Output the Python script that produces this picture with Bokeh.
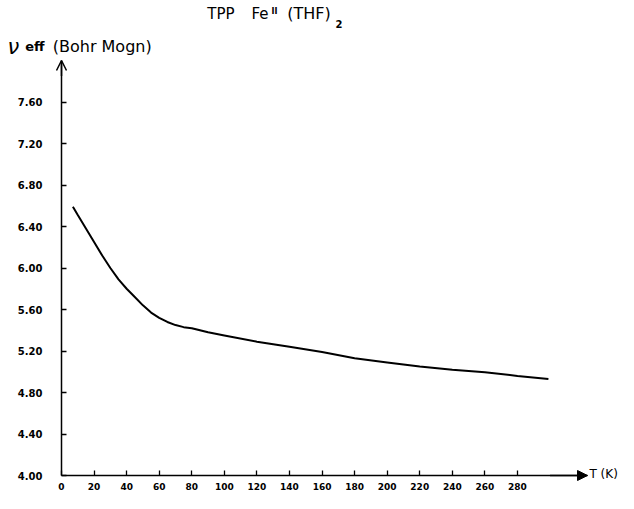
from bokeh.plotting import figure
from bokeh.models import Range1d, FixedTicker, Label, Arrow, OpenHead, NormalHead, NumeralTickFormatter
from bokeh.embed import file_html
from bokeh.resources import INLINE

# ---- data ----
temperature_k = [7, 10, 15, 20, 25, 30, 35, 40, 45, 50, 55, 60, 65, 70, 75, 80, 90, 100,
                 120, 140, 160, 180, 200, 220, 240, 260, 280, 299]
mu_eff = [6.59, 6.51, 6.38, 6.25, 6.12, 6.00, 5.89, 5.80, 5.72, 5.64, 5.57, 5.52, 5.48, 5.45,
          5.43, 5.42, 5.38, 5.35, 5.29, 5.24, 5.19, 5.13, 5.09, 5.05, 5.02, 4.995, 4.96, 4.93]
x_ticks = [0, 20, 40, 60, 80, 100, 120, 140, 160, 180, 200, 220, 240, 260, 280]
y_ticks = [4.0, 4.4, 4.8, 5.2, 5.6, 6.0, 6.4, 6.8, 7.2, 7.6]
x_axis_end = 323      # arrow tip of the T axis
y_axis_end = 8.0      # arrow tip of the mu axis

FONT = "DejaVu Sans"

# frame fills the whole canvas; axes are pinned at T=0 and mu=4.0
W, H = 618, 493
X0_PX, Y0_PX = 61, 475            # canvas position of the origin (0, 4.0)
PX_PER_K = 526 / x_axis_end
PX_PER_MU = 415 / (y_axis_end - 4.0)
x_lo = -X0_PX / PX_PER_K
x_hi = (W - X0_PX) / PX_PER_K
y_lo = 4.0 - (H - Y0_PX) / PX_PER_MU
y_hi = 4.0 + Y0_PX / PX_PER_MU

p = figure(width=W, height=H, output_backend="svg", toolbar_location=None,
           x_range=Range1d(x_lo, x_hi), y_range=Range1d(y_lo, y_hi),
           min_border=0, min_border_left=0, min_border_right=0,
           min_border_top=0, min_border_bottom=0)
p.outline_line_color = None
p.xgrid.visible = False
p.ygrid.visible = False
p.background_fill_color = "white"
p.border_fill_color = "white"

for ax in (p.xaxis[0], p.yaxis[0]):
    ax.axis_line_width = 1.5
    ax.axis_line_color = "black"
    ax.major_tick_in = 5
    ax.major_tick_out = 0
    ax.major_tick_line_width = 1.3
    ax.major_tick_line_color = "black"
    ax.minor_tick_line_color = None
    ax.major_label_text_font = FONT
    ax.major_label_text_font_style = "bold"
    ax.major_label_text_color = "black"

p.xaxis.fixed_location = 4.0
p.xaxis.bounds = (0, x_axis_end)
p.xaxis.ticker = FixedTicker(ticks=x_ticks)
p.xaxis.major_label_text_font_size = "9px"
p.xaxis.major_label_standoff = 7

p.yaxis.fixed_location = 0
p.yaxis.bounds = (4.0, y_axis_end)
p.yaxis.ticker = FixedTicker(ticks=y_ticks)
p.yaxis.formatter = NumeralTickFormatter(format="0.00")
p.yaxis.major_label_text_font_size = "10px"
p.yaxis.major_label_standoff = 19

p.line(temperature_k, mu_eff, line_color="black", line_width=2)

# axis arrows
p.add_layout(Arrow(end=OpenHead(size=10, line_width=1.5, line_color="black"),
                   x_start=0, y_start=7.85, x_end=0, y_end=y_axis_end,
                   line_width=1.5, line_color="black"))
p.add_layout(Arrow(end=NormalHead(size=10, fill_color="black", line_color="black"),
                   x_start=300, y_start=4.0, x_end=x_axis_end, y_end=4.0,
                   line_width=1.5, line_color="black"))

def lab(x, y, text, size, style="normal", align="center", baseline="middle"):
    p.add_layout(Label(x=x, y=y, text=text, text_font=FONT, text_font_size=size,
                       text_font_style=style, text_color="black",
                       text_align=align, text_baseline=baseline))

# title  TPP Fe(II)(THF)2
lab(97.9, 8.453, "TPP", "15px")
lab(121.9, 8.453, "Fe", "15px")
lab(130.8, 8.47, "II", "8px", "bold")
lab(152.0, 8.453, "(THF)", "16px")
lab(170.4, 8.35, "2", "10px", "bold")

# y axis label
lab(-29.5, 8.13, "\u03bd", "21px", "italic")
lab(-16.3, 8.135, "eff", "13px", "bold")
lab(25.0, 8.135, "(Bohr Mogn)", "16px")

# x axis label
lab(324.2, 4.01, "T (K)", "12px", align="left")

open("out.html", "w").write(file_html(p, INLINE))
